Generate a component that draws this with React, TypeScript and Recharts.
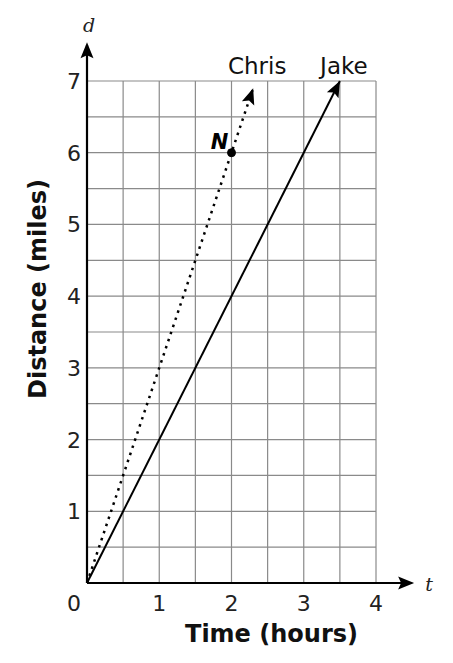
import { LineChart, Line, XAxis, YAxis, CartesianGrid, ReferenceLine, ReferenceDot } from 'recharts';

const timeTicks = [0, 0.5, 1, 1.5, 2, 2.5, 3, 3.5, 4];
const distanceTicks = [0, 0.5, 1, 1.5, 2, 2.5, 3, 3.5, 4, 4.5, 5, 5.5, 6, 6.5, 7];

const jake = [
  { t: 0, d: 0 },
  { t: 3.5, d: 7 },
];
const chris = [
  { t: 0, d: 0 },
  { t: 2.3, d: 6.9 },
];
const pointN = { t: 2, d: 6, name: 'N' };

const W = 453;
const H = 663;
const M = { top: 81, right: 77, bottom: 0, left: 0 };
const Y_W = 87;
const X_H = 80;
// pixels per unit, used only to point the arrowheads and line up the name labels
const KX = (W - M.left - Y_W - M.right) / 4;
const KY = (H - M.top - X_H) / 7;

const font = '"DejaVu Sans", Verdana, sans-serif';

function arrowHead(x: number, y: number, angle: number, key: string) {
  const len = 16;
  const half = 6.5;
  const pts = [
    [0, 0],
    [-len, -half],
    [-len + 3, 0],
    [-len, half],
  ]
    .map(([px, py]) => {
      const rx = px * Math.cos(angle) - py * Math.sin(angle);
      const ry = px * Math.sin(angle) + py * Math.cos(angle);
      return `${x + rx},${y + ry}`;
    })
    .join(' ');
  return <polygon key={key} points={pts} fill="#000" />;
}

function lineEnd(series: { t: number; d: number }[], name: string) {
  const a = series[0];
  const b = series[series.length - 1];
  const angle = Math.atan2(-(b.d - a.d) * KY, (b.t - a.t) * KX);
  return (props: any) => {
    const { cx, cy, index } = props;
    if (index !== series.length - 1) return <g key={`e${index}`} />;
    const top = cy - (7 - b.d) * KY;
    return (
      <g key={`end-${name}`}>
        {arrowHead(cx, cy, angle, 'h')}
        <text x={cx + 4} y={top - 7} textAnchor="middle" fontFamily={font} fontSize={23} fill="#111">
          {name}
        </text>
      </g>
    );
  };
}

const XTick = (props: any) => {
  const { x, y, payload } = props;
  const v = payload.value;
  if (!Number.isInteger(v)) return <g />;
  return (
    <text x={v === 0 ? x - 13 : x} y={y + 20} textAnchor="middle" fontFamily={font} fontSize={22} fill="#222">
      {v}
    </text>
  );
};

const YTick = (props: any) => {
  const { x, y, payload } = props;
  const v = payload.value;
  if (!Number.isInteger(v) || v === 0) return <g />;
  return (
    <text x={x + 2} y={y + 8} textAnchor="end" fontFamily={font} fontSize={22} fill="#222">
      {v}
    </text>
  );
};

export default function App() {
  return (
    <div style={{ position: 'absolute', left: 0, top: 0, background: '#fff' }}>
      <LineChart width={W} height={H} margin={M}>
        <CartesianGrid stroke="#8a8a8a" strokeWidth={1.2} />
        <XAxis
          type="number"
          dataKey="t"
          domain={[0, 4]}
          ticks={timeTicks}
          interval={0}
          height={X_H}
          tickLine={false}
          axisLine={false}
          tick={<XTick />}
          label={{
            value: 'Time (hours)',
            position: 'insideBottom',
            offset: 21,
            dx: 40,
            style: { fontFamily: font, fontSize: 24, fontWeight: 'bold', fill: '#111' },
          }}
        />
        <YAxis
          type="number"
          dataKey="d"
          domain={[0, 7]}
          ticks={distanceTicks}
          interval={0}
          width={Y_W}
          tickLine={false}
          axisLine={false}
          tick={<YTick />}
          label={{
            value: 'Distance (miles)',
            angle: -90,
            position: 'insideLeft',
            offset: 37,
            dy: -43,
            style: { fontFamily: font, fontSize: 24, fontWeight: 'bold', fill: '#111', textAnchor: 'middle' },
          }}
        />
        <ReferenceLine
          segment={[{ x: 0, y: 0 }, { x: 4.5, y: 0 }]}
          stroke="#000"
          strokeWidth={2.2}
          ifOverflow="visible"
        />
        <ReferenceLine
          segment={[{ x: 0, y: 0 }, { x: 0, y: 7.5 }]}
          stroke="#000"
          strokeWidth={2.2}
          ifOverflow="visible"
        />
        <ReferenceDot
          x={4.5}
          y={0}
          ifOverflow="visible"
          shape={(p: any) => (
            <g>
              {arrowHead(p.cx + 2, p.cy, 0, 'xa')}
              <text x={p.cx + 13} y={p.cy + 8} fontFamily="DejaVu Serif, serif" fontStyle="italic" fontSize={19} fill="#222">
                t
              </text>
            </g>
          )}
        />
        <ReferenceDot
          x={0}
          y={7.5}
          ifOverflow="visible"
          shape={(p: any) => (
            <g>
              {arrowHead(p.cx, p.cy - 3, -Math.PI / 2, 'ya')}
              <text x={p.cx + 2} y={p.cy - 13} textAnchor="middle" fontFamily="DejaVu Serif, serif" fontStyle="italic" fontSize={19} fill="#222">
                d
              </text>
            </g>
          )}
        />
        <Line
          data={jake}
          dataKey="d"
          stroke="#000"
          strokeWidth={2}
          dot={lineEnd(jake, 'Jake')}
          activeDot={false}
          isAnimationActive={false}
        />
        <Line
          data={chris}
          dataKey="d"
          stroke="#000"
          strokeWidth={2.5}
          strokeDasharray="2.5 5"
          dot={lineEnd(chris, 'Chris')}
          activeDot={false}
          isAnimationActive={false}
        />
        <ReferenceDot
          x={pointN.t}
          y={pointN.d}
          r={4}
          fill="#000"
          stroke="#000"
          ifOverflow="visible"
          label={{
            value: pointN.name,
            position: 'insideTopLeft',
            content: (lp: any) => {
              const vb = lp.viewBox || {};
              const cx = (vb.x ?? 0) + (vb.width ?? 0) / 2;
              const cy = (vb.y ?? 0) + (vb.height ?? 0) / 2;
              return (
                <text x={cx - 12} y={cy - 4} textAnchor="middle" fontFamily={font} fontWeight="bold" fontStyle="italic" fontSize={21} fill="#000">
                  {pointN.name}
                </text>
              );
            },
          }}
        />
      </LineChart>
    </div>
  );
}
